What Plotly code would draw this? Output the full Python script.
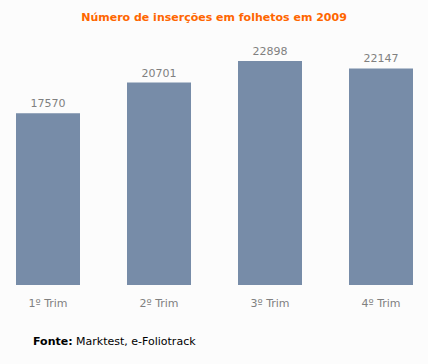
import plotly.graph_objects as go

categories = ["1º Trim", "2º Trim", "3º Trim", "4º Trim"]
values = [17570, 20701, 22898, 22147]

fig = go.Figure()
fig.add_trace(go.Bar(
    x=categories, y=values,
    width=0.5766,
    marker=dict(color="#778ca8", line=dict(width=0)),
    text=[str(v) for v in values],
    textposition="outside",
    cliponaxis=False,
    textfont=dict(family="DejaVu Sans", size=11, color="#808080"),
    hoverinfo="skip",
))

fig.update_layout(
    width=428, height=364,
    margin=dict(l=0, r=0, t=40, b=79),
    paper_bgcolor="#fcfcfc", plot_bgcolor="#fcfcfc",
    showlegend=False,
    title=dict(text="<b>Número de inserções em folhetos em 2009</b>",
               x=0.5, xanchor="center", y=1 - 17/364, yanchor="middle",
               font=dict(family="DejaVu Sans", size=11, color="#ff6600")),
    xaxis=dict(range=[-0.4324, 3.4234], showgrid=False, zeroline=False,
               showline=False, ticks="", ticklabelstandoff=10,
               tickfont=dict(family="DejaVu Sans", size=11, color="#808080")),
    yaxis=dict(range=[0, 25050], visible=False),
    annotations=[dict(text="<b>Fonte:</b> Marktest, e-Foliotrack",
                      xref="paper", yref="paper", x=31/428, y=1 - (341-40)/245,
                      xanchor="left", yanchor="middle", showarrow=False,
                      font=dict(family="DejaVu Sans", size=11, color="#000000"))],
)
fig.write_html("out.html", config={"displayModeBar": False},
               post_script="document.body.style.margin='0px';document.body.style.background='#fcfcfc';")
